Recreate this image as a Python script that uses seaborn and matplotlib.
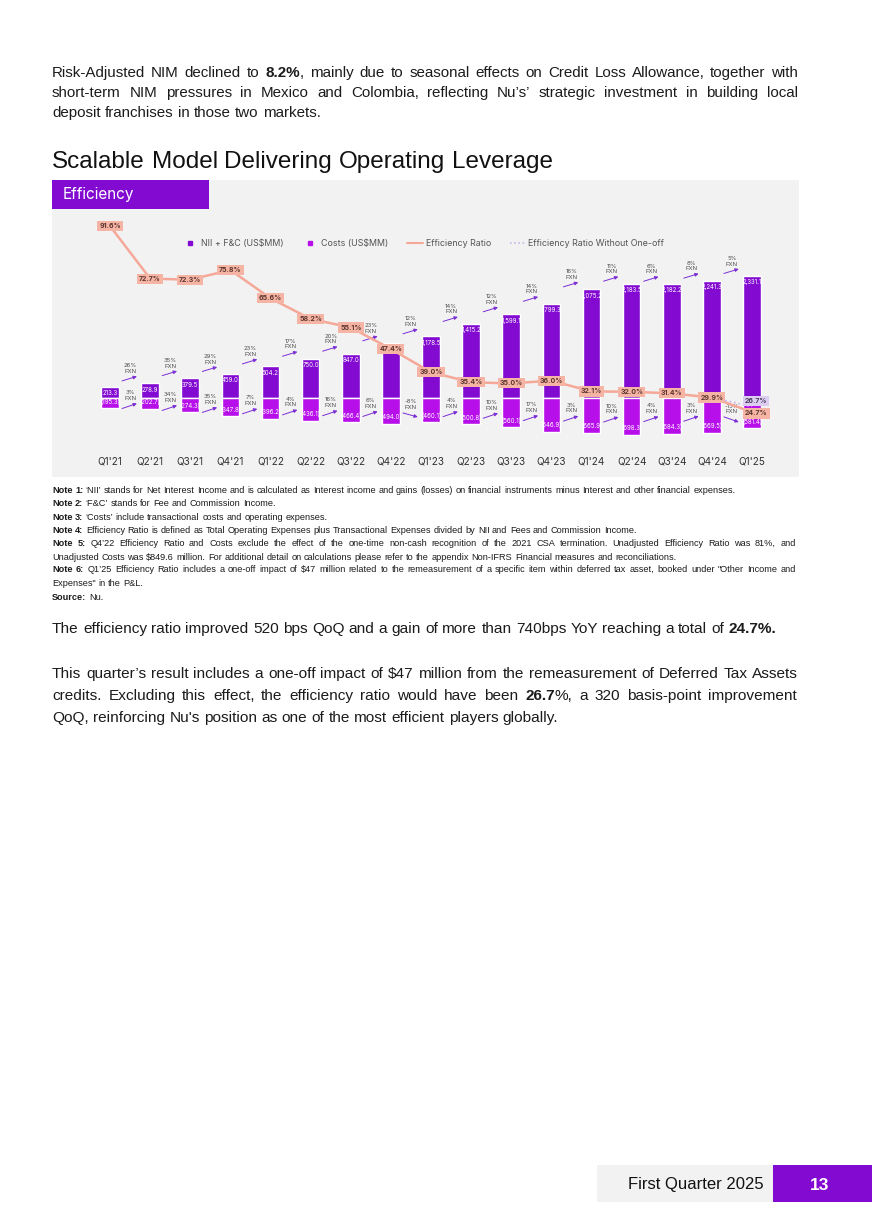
import numpy as np
import pandas as pd
import matplotlib
matplotlib.use("Agg")
import matplotlib.pyplot as plt
import seaborn as sns
from matplotlib.patches import Rectangle
from matplotlib.lines import Line2D
from matplotlib import font_manager

# ---------------- data ----------------
quarters = ["Q1'21", "Q2'21", "Q3'21", "Q4'21", "Q1'22", "Q2'22", "Q3'22", "Q4'22",
            "Q1'23", "Q2'23", "Q3'23", "Q4'23", "Q1'24", "Q2'24", "Q3'24", "Q4'24", "Q1'25"]
nii_fc = [213.3, 278.9, 379.5, 459.0, 604.2, 750.0, 847.0, 1045.0, 1178.5, 1415.2,
          1599.1, 1799.3, 2075.2, 2183.5, 2182.2, 2241.3, 2331.1]
costs = [195.3, 202.7, 274.3, 347.8, 396.2, 436.1, 466.4, 494.0, 460.1, 500.8,
         560.1, 646.9, 665.9, 698.3, 684.3, 669.5, 581.4]
efficiency_ratio = [91.6, 72.7, 72.3, 75.8, 65.6, 58.2, 55.1, 47.4, 39.0, 35.4,
                    35.0, 36.0, 32.1, 32.0, 31.4, 29.9, 24.7]
efficiency_wo_oneoff = [29.9, 26.7]          # Q4'24 -> Q1'25 (dotted)
nii_fxn_growth = [None, 26, 35, 29, 23, 17, 20, 23, 12, 14, 12, 14, 16, 11, 6, 8, 5]
cost_fxn_growth = [None, 3, 34, 35, 7, 4, 16, 6, -8, 4, 10, 17, 3, 10, 4, 3, -13]

legend_labels = ["NII + F&C (US$MM)", "Costs (US$MM)", "Efficiency Ratio",
                 "Efficiency Ratio Without One-off"]

intro_lines = [
    "Risk-Adjusted NIM declined to *8.2%*, mainly due to seasonal effects on Credit Loss Allowance, together with",
    "short-term NIM pressures in Mexico and Colombia, reflecting Nu’s’ strategic investment in building local",
    "deposit franchises in those two markets.",
]
heading = "Scalable Model Delivering Operating Leverage"
note_lines = [
    "*Note 1:* ‘NII’ stands for Net Interest Income and is calculated as Interest income and gains (losses) on financial instruments minus Interest and other financial expenses.",
    "*Note 2:* ‘F&C’ stands for Fee and Commission Income.",
    "*Note 3:* ‘Costs’ include transactional costs and operating expenses.",
    "*Note 4:* Efficiency Ratio is defined as Total Operating Expenses plus Transactional Expenses divided by NII and Fees and Commission Income.",
    "*Note 5:* Q4’22 Efficiency Ratio and Costs exclude the effect of the one-time non-cash recognition of the 2021 CSA termination. Unadjusted Efficiency Ratio was 81%, and",
    "Unadjusted Costs was $849.6 million. For additional detail on calculations please refer to the appendix Non-IFRS Financial measures and reconciliations.",
    "*Note 6:* Q1’25 Efficiency Ratio includes a one-off impact of $47 million related to the remeasurement of a specific item within deferred tax asset, booked under \"Other Income and",
    "Expenses\" in the P&L.",
    "*Source:* Nu.",
]
note_justified = [False, False, False, False, True, False, True, False, False]
outro_lines = [
    "The efficiency ratio improved 520 bps QoQ and a gain of more than 740bps YoY reaching a total of *24.7%.*",
    "This quarter’s result includes a one-off impact of $47 million from the remeasurement of Deferred Tax Assets",
    "credits. Excluding this effect, the efficiency ratio would have been *26.7*%, a 320 basis-point improvement",
    "QoQ, reinforcing Nu's position as one of the most efficient players globally.",
]
outro_justified = [False, True, True, False]

# ---------------- styling ----------------
W, H = 872, 1232
sns.set_theme(style="white")
available = {f.name for f in font_manager.fontManager.ttflist}
BODY = 'Liberation Sans' if 'Liberation Sans' in available else 'DejaVu Sans'
NARROW = 'Liberation Sans Narrow' if 'Liberation Sans Narrow' in available else BODY
CHART = 'Inter' if 'Inter' in available else BODY
plt.rcParams['font.family'] = [CHART, 'DejaVu Sans']

PURPLE = '#820AD1'
MAGENTA = '#B60FEA'
SALMON = '#F5A898'
SALMON_BOX = '#F6B4A4'
LAVENDER = '#C9B6EA'
ARROW = '#7B2DD6'

fig = plt.figure(figsize=(W / 100, H / 100), dpi=100)
fig.patch.set_facecolor('white')
renderer = fig.canvas.get_renderer()


def fx(x):
    return x / W


def fy(y):
    return 1 - y / H


_cache = {}


def measure(s, size, bold=False, family=BODY):
    key = (s, size, bold, family)
    if key not in _cache:
        t = fig.text(0, 0, s, fontsize=size, fontweight='bold' if bold else 'normal',
                     family=family, parse_math=False)
        _cache[key] = t.get_window_extent(renderer=renderer).width
        t.remove()
    return _cache[key]


def adv(s, size, bold=False, family=BODY):
    # advance width (ink bearings cancelled by the surrounding 'x')
    if not s:
        return 0.0
    return measure('x' + s + 'x', size, bold, family) - measure('xx', size, bold, family)


def words_of(line):
    out, bold = [], False
    for w in line.split(' '):
        if not w:
            continue
        runs = []
        for k, p in enumerate(w.split('*')):
            if k > 0:
                bold = not bold
            if p:
                runs.append((p, bold))
        out.append(runs)
    return out


def seg_adv(pieces, size, family):
    """advance of a sequence of (text, bold) pieces, measured per same-weight segment"""
    total, cur, curb = 0.0, '', None
    for t, b in pieces:
        if curb is None or b == curb:
            cur += t
            curb = b
        else:
            total += adv(cur, size, curb, family)
            cur, curb = t, b
    if cur:
        total += adv(cur, size, curb, family)
    return total


def layout(line, size, family):
    ws = words_of(line)
    pieces, placements = [], []
    for k, runs in enumerate(ws):
        if k > 0:
            pieces.append((' ', pieces[-1][1]))
        for t, b in runs:
            placements.append((k, t, b, seg_adv(pieces, size, family)))
            pieces.append((t, b))
    return ws, placements, seg_adv(pieces, size, family)


def fit_size(line, target, family, ref=10.0):
    return ref * target / layout(line, ref, family)[2]


def draw_line(line, x0, yc, size, family, right=None, color='#1b1b1b'):
    ws, placements, total = layout(line, size, family)
    extra = 0.0
    if right is not None and len(ws) > 1:
        extra = (right - x0 - total) / (len(ws) - 1)
    yb = yc + 0.36 * size * 100 / 72
    for k, t, b, off in placements:
        fig.text(fx(x0 + off + k * extra), fy(yb), t, fontsize=size,
                 fontweight='bold' if b else 'normal', family=family, color=color,
                 va='baseline', ha='left', parse_math=False)


# ---------------- page text ----------------
s_intro = fit_size(intro_lines[2], 270, BODY)
for k, (ln, y) in enumerate(zip(intro_lines, [72, 92, 112])):
    draw_line(ln, 52, y, s_intro, BODY, right=798 if k < 2 else None)

s_head = fit_size(heading, 504, BODY)
draw_line(heading, 52, 159, s_head, BODY, color='#111111')

s_note = fit_size(note_lines[0], 683, BODY)
for ln, y, j in zip(note_lines, [490, 503, 517, 530, 543, 557, 569, 583, 597], note_justified):
    draw_line(ln, 52, y, s_note, BODY, right=796 if j else None)

s_out = fit_size(outro_lines[3], 506, NARROW)
for ln, y, j in zip(outro_lines, [627, 672, 694, 716], outro_justified):
    draw_line(ln, 52, y, s_out, NARROW, right=797 if j else None)

# footer
fig.add_artist(Rectangle((fx(597), fy(1202)), (773 - 597) / W, (1202 - 1165) / H,
                         transform=fig.transFigure, fc='#F2F2F2', ec='none', zorder=-1))
fig.add_artist(Rectangle((fx(773), fy(1202)), (872 - 773) / W, (1202 - 1165) / H,
                         transform=fig.transFigure, fc=PURPLE, ec='none', zorder=-1))
fig.text(fx(764), fy(1184), 'First Quarter 2025', ha='right', va='center', fontsize=12,
         family=BODY, color='#111111')
fig.text(fx(820), fy(1185), '13', ha='center', va='center', fontsize=12.5,
         fontweight='bold', family=BODY, color='white')

# ---------------- chart panel ----------------
fig.add_artist(Rectangle((fx(52), fy(477)), (799 - 52) / W, (477 - 180) / H,
                         transform=fig.transFigure, fc='#F2F2F2', ec='none', zorder=-2))
fig.add_artist(Rectangle((fx(52), fy(209)), (209 - 52) / W, (209 - 180) / H,
                         transform=fig.transFigure, fc=PURPLE, ec='none', zorder=-1))
fig.text(fx(63), fy(195), 'Efficiency', ha='left', va='center', fontsize=11,
         color='white', family=CHART)

AX_L, AX_R, AX_T, AX_B = 52, 799, 215, 450
ax = fig.add_axes([fx(AX_L), fy(AX_B), (AX_R - AX_L) / W, (AX_B - AX_T) / H])
ax.set_facecolor('none')

df = pd.DataFrame({'quarter': quarters, 'nii': nii_fc, 'costs': costs,
                   'eff': efficiency_ratio})
df['neg_costs'] = -df['costs']
sns.barplot(data=df, x='quarter', y='nii', color=PURPLE, saturation=1, width=0.44,
            errorbar=None, ax=ax, zorder=2)
sns.barplot(data=df, x='quarter', y='neg_costs', color=MAGENTA, saturation=1, width=0.44,
            errorbar=None, ax=ax, zorder=2)

X0, DX = 110, 40.125         # pixel of first bar, pixel spacing
BASE, U = 398, 19.1          # baseline pixel, US$MM per pixel
ax.set_xlim((AX_L - X0) / DX, (AX_R - X0) / DX)
ax.set_ylim(-(AX_B - BASE) * U, (BASE - AX_T) * U)

n = len(quarters)
idx = np.arange(n)

# value labels inside bars
for i in idx:
    ax.annotate(f"{nii_fc[i]:,.1f}", (i, nii_fc[i]), xytext=(0, -4.6), textcoords='offset points',
                ha='center', va='center', fontsize=4.4, color='white', zorder=5)
    ax.annotate(f"({costs[i]:,.1f})", (i, -costs[i]), xytext=(0, 4.9), textcoords='offset points',
                ha='center', va='center', fontsize=4.4, color='white', zorder=5)

# FX-neutral growth arrows
arrow_kw = dict(arrowstyle='-|>', color=ARROW, lw=0.7, mutation_scale=5, shrinkA=0, shrinkB=0)
for i in idx[1:]:
    g = nii_fxn_growth[i]
    y0, y1 = nii_fc[i] + 2.5 * U, nii_fc[i] + 7 * U
    ax.annotate('', xy=(i - 0.33, y1), xytext=(i - 0.7, y0), arrowprops=arrow_kw, zorder=4)
    ax.text(i - 0.5, (y0 + y1) / 2 + 10 * U, f"{g}%\nFXN", ha='center', va='center',
            fontsize=4.3, color='#4d4d4d', linespacing=1.15, zorder=4)

    g = cost_fxn_growth[i]
    c = costs[i]
    if g >= 0:
        y1 = -0.52 * c
        y0 = y1 - 5 * U
    else:
        y0, y1 = -0.62 * c, -0.79 * c
    ax.annotate('', xy=(i - 0.33, y1), xytext=(i - 0.7, y0), arrowprops=arrow_kw, zorder=4)
    ax.text(i - 0.5, (y0 + y1) / 2 + 10.5 * U, f"{g}%\nFXN", ha='center', va='center',
            fontsize=4.3, color='#4d4d4d', linespacing=1.15, zorder=4)

# efficiency ratio line on twin axis
ax2 = ax.twinx()
P, ZERO = 2.78, 480.7        # pixels per %, pixel of 0%
ax2.set_ylim((ZERO - AX_B) / P, (ZERO - AX_T) / P)
sns.lineplot(x=idx, y=efficiency_ratio, color=SALMON, lw=1.8, ax=ax2, zorder=3)
sns.lineplot(x=idx[-2:], y=efficiency_wo_oneoff, color=LAVENDER, lw=1.3, linestyle=(0, (1, 1.5)),
             ax=ax2, zorder=3)

for i in idx:
    v = efficiency_ratio[i]
    dx, dy = (0, 0)
    if i == n - 1:
        dx, dy = 3, -1
    ax2.annotate(f"{v:.1f}%", (i, v), xytext=(dx, dy), textcoords='offset points',
                 ha='center', va='center', fontsize=5, fontweight='bold', color='#5A352E',
                 bbox=dict(boxstyle='square,pad=0.3', fc=SALMON_BOX, ec='none'), zorder=6)
ax2.annotate(f"{efficiency_wo_oneoff[1]:.1f}%", (idx[-1], efficiency_wo_oneoff[1]), xytext=(3, 4),
             textcoords='offset points', ha='center', va='center', fontsize=5, fontweight='bold',
             color='#4A3A5C', bbox=dict(boxstyle='square,pad=0.3', fc='#DDCDF0', ec='none'), zorder=6)

# axes cosmetics
ax.set_xticks(idx)
ax.set_xticklabels(quarters)
ax.tick_params(axis='x', length=0, pad=5, labelsize=7.2, labelcolor='#333333')
ax.set_xlabel('')
ax.set_ylabel('')
ax.set_yticks([])
ax2.set_yticks([])
ax2.set_ylabel('')
for a in (ax, ax2):
    for s in a.spines.values():
        s.set_visible(False)
    a.grid(False)

handles = [
    Line2D([], [], marker='s', color=PURPLE, linestyle='none', markersize=3.5),
    Line2D([], [], marker='s', color=MAGENTA, linestyle='none', markersize=3.5),
    Line2D([], [], color=SALMON, lw=1.5),
    Line2D([], [], color=LAVENDER, lw=1.2, linestyle=(0, (1, 1.5))),
]
leg = ax2.legend(handles, legend_labels, loc='center', bbox_to_anchor=(0.497, 0.877), ncol=4,
                 frameon=False, fontsize=6.4, handlelength=1.8, handletextpad=0.3,
                 columnspacing=2.1, labelcolor='#555555')

fig.savefig('out.png', dpi=100, facecolor='white')
